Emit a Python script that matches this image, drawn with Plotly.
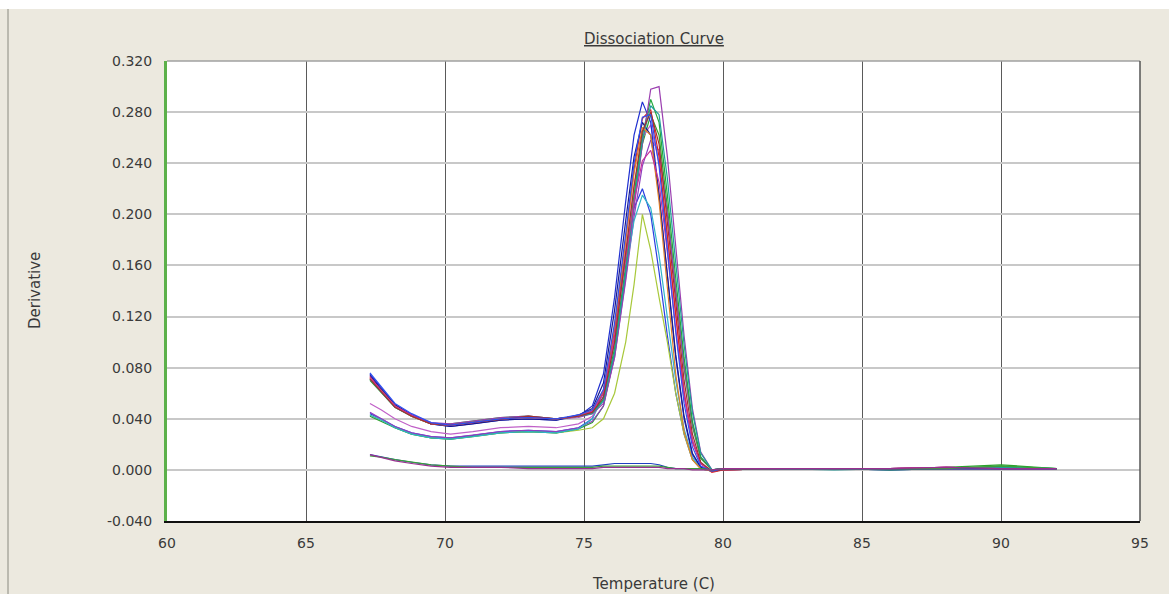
import plotly.graph_objects as go

# Shared temperature grid (C)
temperature = [67.3, 67.7, 68.2, 68.8, 69.5, 70.2, 71.0, 72.0, 73.0, 74.0, 74.8,
               75.3, 75.7, 76.1, 76.5, 76.8, 77.1, 77.4, 77.7, 78.0, 78.3, 78.6,
               78.9, 79.2, 79.6, 80.0, 82.0, 84.0, 86.0, 88.0, 90.0, 92.0]

# Derivative values per well
well_a1 = [0.075, 0.064, 0.051, 0.043, 0.036, 0.034, 0.036, 0.039, 0.040, 0.039, 0.042,
           0.050, 0.075, 0.135, 0.210, 0.262, 0.288, 0.272, 0.215, 0.150, 0.088, 0.040,
           0.012, 0.002, -0.001, 0.001, 0.001, 0.001, 0.000, 0.001, 0.001, 0.001]
well_a2 = [0.073, 0.063, 0.050, 0.042, 0.036, 0.035, 0.037, 0.040, 0.041, 0.040, 0.042,
           0.046, 0.060, 0.110, 0.180, 0.235, 0.275, 0.282, 0.245, 0.182, 0.118, 0.060,
           0.022, 0.005, -0.002, 0.000, 0.001, 0.001, 0.001, 0.002, 0.001, 0.001]
well_a3 = [0.070, 0.061, 0.049, 0.042, 0.036, 0.036, 0.038, 0.041, 0.042, 0.040, 0.042,
           0.045, 0.055, 0.095, 0.160, 0.215, 0.262, 0.290, 0.272, 0.215, 0.150, 0.088,
           0.038, 0.010, 0.000, 0.001, 0.001, 0.001, 0.000, 0.001, 0.003, 0.001]
well_a4 = [0.072, 0.062, 0.050, 0.043, 0.037, 0.036, 0.038, 0.041, 0.042, 0.040, 0.041,
           0.044, 0.052, 0.088, 0.150, 0.205, 0.255, 0.298, 0.300, 0.245, 0.175, 0.105,
           0.048, 0.014, 0.000, 0.000, 0.001, 0.001, 0.001, 0.002, 0.001, 0.001]
well_a5 = [0.074, 0.063, 0.051, 0.043, 0.036, 0.034, 0.036, 0.039, 0.040, 0.039, 0.043,
           0.048, 0.068, 0.125, 0.195, 0.245, 0.272, 0.262, 0.215, 0.150, 0.090, 0.042,
           0.013, 0.002, -0.001, 0.001, 0.001, 0.001, 0.001, 0.001, 0.001, 0.001]
well_a6 = [0.071, 0.061, 0.049, 0.042, 0.036, 0.035, 0.037, 0.040, 0.041, 0.040, 0.042,
           0.044, 0.054, 0.092, 0.155, 0.210, 0.258, 0.285, 0.278, 0.228, 0.162, 0.098,
           0.045, 0.013, 0.000, 0.001, 0.001, 0.000, 0.001, 0.001, 0.002, 0.001]
well_a7 = [0.072, 0.062, 0.050, 0.042, 0.036, 0.035, 0.037, 0.040, 0.041, 0.040, 0.042,
           0.047, 0.062, 0.112, 0.180, 0.232, 0.268, 0.262, 0.210, 0.140, 0.075, 0.030,
           0.008, 0.001, -0.001, 0.000, 0.001, 0.001, 0.001, 0.001, 0.001, 0.001]
well_a8 = [0.073, 0.062, 0.050, 0.043, 0.036, 0.035, 0.037, 0.040, 0.041, 0.040, 0.042,
           0.046, 0.060, 0.105, 0.165, 0.210, 0.242, 0.250, 0.225, 0.170, 0.110, 0.058,
           0.022, 0.005, -0.001, 0.000, 0.001, 0.001, 0.001, 0.002, 0.001, 0.001]
well_a9 = [0.071, 0.061, 0.049, 0.042, 0.036, 0.035, 0.037, 0.040, 0.042, 0.040, 0.042,
           0.045, 0.057, 0.100, 0.168, 0.222, 0.265, 0.280, 0.255, 0.195, 0.130, 0.070,
           0.028, 0.006, -0.001, 0.000, 0.001, 0.001, 0.001, 0.001, 0.001, 0.001]
well_a10 = [0.076, 0.065, 0.052, 0.044, 0.037, 0.035, 0.037, 0.040, 0.041, 0.040, 0.043,
            0.047, 0.063, 0.115, 0.185, 0.240, 0.276, 0.278, 0.238, 0.172, 0.108, 0.052,
            0.018, 0.003, -0.001, 0.001, 0.001, 0.001, 0.001, 0.001, 0.001, 0.001]
well_b1 = [0.044, 0.040, 0.034, 0.029, 0.026, 0.025, 0.027, 0.030, 0.031, 0.030, 0.033,
           0.040, 0.062, 0.110, 0.170, 0.205, 0.220, 0.200, 0.155, 0.105, 0.060, 0.028,
           0.008, 0.001, -0.001, 0.001, 0.001, 0.001, 0.000, 0.001, 0.001, 0.001]
well_b2 = [0.043, 0.039, 0.033, 0.028, 0.025, 0.024, 0.026, 0.029, 0.030, 0.029, 0.031,
           0.033, 0.040, 0.060, 0.100, 0.145, 0.200, 0.172, 0.135, 0.100, 0.060, 0.028,
           0.008, 0.001, -0.001, 0.000, 0.001, 0.001, 0.001, 0.001, 0.001, 0.001]
well_b3 = [0.042, 0.038, 0.033, 0.028, 0.025, 0.024, 0.026, 0.029, 0.030, 0.029, 0.032,
           0.037, 0.050, 0.090, 0.155, 0.210, 0.255, 0.278, 0.262, 0.205, 0.140, 0.080,
           0.034, 0.009, 0.000, 0.001, 0.001, 0.001, 0.001, 0.002, 0.004, 0.001]
well_b4 = [0.045, 0.040, 0.034, 0.029, 0.026, 0.025, 0.027, 0.030, 0.031, 0.030, 0.033,
           0.038, 0.050, 0.088, 0.148, 0.198, 0.238, 0.258, 0.250, 0.200, 0.140, 0.082,
           0.036, 0.010, 0.000, 0.000, 0.001, 0.001, 0.001, 0.002, 0.001, 0.001]
well_b5 = [0.043, 0.039, 0.033, 0.028, 0.025, 0.024, 0.026, 0.029, 0.030, 0.029, 0.032,
           0.040, 0.058, 0.100, 0.155, 0.195, 0.215, 0.205, 0.168, 0.118, 0.070, 0.032,
           0.010, 0.001, -0.001, 0.000, 0.001, 0.001, 0.001, 0.001, 0.001, 0.001]
well_b6 = [0.052, 0.047, 0.040, 0.034, 0.030, 0.028, 0.030, 0.033, 0.034, 0.033, 0.036,
           0.042, 0.056, 0.102, 0.170, 0.222, 0.260, 0.270, 0.240, 0.180, 0.118, 0.062,
           0.024, 0.005, -0.001, 0.000, 0.001, 0.001, 0.001, 0.002, 0.001, 0.001]
ntc_1 = [0.012, 0.010, 0.008, 0.006, 0.004, 0.003, 0.003, 0.003, 0.003, 0.003, 0.003,
         0.003, 0.004, 0.005, 0.005, 0.005, 0.005, 0.005, 0.004, 0.002, 0.001, 0.001,
         0.001, 0.001, 0.000, 0.001, 0.001, 0.001, 0.001, 0.001, 0.001, 0.001]
ntc_2 = [0.011, 0.010, 0.008, 0.006, 0.004, 0.003, 0.002, 0.002, 0.002, 0.002, 0.002,
         0.002, 0.003, 0.003, 0.003, 0.003, 0.003, 0.003, 0.003, 0.002, 0.001, 0.001,
         0.001, 0.001, 0.000, 0.001, 0.001, 0.001, 0.001, 0.001, 0.003, 0.001]
ntc_3 = [0.012, 0.010, 0.007, 0.005, 0.003, 0.002, 0.002, 0.002, 0.001, 0.001, 0.001,
         0.001, 0.002, 0.002, 0.002, 0.002, 0.002, 0.002, 0.002, 0.001, 0.001, 0.001,
         0.000, 0.000, 0.000, 0.001, 0.001, 0.001, 0.001, 0.002, 0.001, 0.001]

series = [
    ("B1", well_b1, "#2a3fe0"), ("B2", well_b2, "#a8c83a"), ("B3", well_b3, "#2ca02c"),
    ("B4", well_b4, "#8e3fc0"), ("B5", well_b5, "#2fb4c8"), ("B6", well_b6, "#c060c8"),
    ("A1", well_a1, "#1f2fd0"), ("A2", well_a2, "#e02020"), ("A3", well_a3, "#22a83a"),
    ("A4", well_a4, "#9b3fb0"), ("A5", well_a5, "#1a1a8c"), ("A6", well_a6, "#1f9e9a"),
    ("A7", well_a7, "#e0802a"), ("A8", well_a8, "#c8309a"), ("A9", well_a9, "#a03030"),
    ("A10", well_a10, "#3050f0"),
    ("NTC1", ntc_1, "#2040c0"), ("NTC2", ntc_2, "#3aa03a"), ("NTC3", ntc_3, "#9a3090"),
]

x_ticks = [60, 65, 70, 75, 80, 85, 90, 95]
y_ticks = [-0.04, 0.0, 0.04, 0.08, 0.12, 0.16, 0.2, 0.24, 0.28, 0.32]
y_tick_text = ["-0.040", "0.000", "0.040", "0.080", "0.120", "0.160", "0.200",
               "0.240", "0.280", "0.320"]

fig = go.Figure()
for name, vals, color in series:
    fig.add_trace(go.Scatter(x=temperature, y=vals, mode="lines", name=name,
                             line=dict(color=color, width=1.2), hoverinfo="skip"))

W, H = 1175, 594
L, R, T, B = 167, 35, 61, 73
pw, ph = W - L - R, H - T - B


def px_x(p):
    return (p - L) / pw


def px_y(p):
    return (H - B - p) / ph


font = "DejaVu Sans, Arial, sans-serif"
txt = "#3a3a3a"

fig.update_layout(
    width=W, height=H,
    margin=dict(l=L, r=R, t=T, b=B, pad=0),
    paper_bgcolor="#ECE9DF",
    plot_bgcolor="#FFFFFF",
    showlegend=False,
    font=dict(family=font, size=14, color=txt),
    xaxis=dict(range=[60, 95], tickvals=x_ticks, ticktext=[str(v) for v in x_ticks],
               showgrid=True, gridcolor="#5a5a5a", gridwidth=1.3, zeroline=False,
               showline=True, linecolor="#111111", linewidth=2, ticks="",
               ticklabelstandoff=8, tickfont=dict(size=14, color=txt)),
    yaxis=dict(range=[-0.04, 0.32], tickvals=y_ticks, ticktext=y_tick_text,
               showgrid=True, gridcolor="#c8c8c8", gridwidth=1.8, zeroline=False,
               showline=True, linecolor="#5cb04a", linewidth=3, ticks="",
               ticklabelstandoff=9, tickfont=dict(size=14, color=txt)),
    shapes=[
        # white strips outside the beige panel
        dict(type="rect", xref="paper", yref="paper", x0=px_x(0), x1=px_x(W),
             y0=px_y(9), y1=px_y(0), fillcolor="#FFFFFF", line=dict(width=0)),
        dict(type="rect", xref="paper", yref="paper", x0=px_x(1169), x1=px_x(W),
             y0=px_y(H), y1=px_y(0), fillcolor="#FFFFFF", line=dict(width=0)),
        dict(type="line", xref="paper", yref="paper", x0=px_x(8), x1=px_x(8),
             y0=px_y(9), y1=px_y(H), line=dict(color="#8a8a80", width=1)),
        # frame top and right
        dict(type="line", xref="paper", yref="paper", x0=0, x1=1, y0=1, y1=1,
             line=dict(color="#a0a0a0", width=1.5)),
        dict(type="line", xref="paper", yref="paper", x0=1, x1=1, y0=0, y1=1,
             line=dict(color="#555555", width=1.5)),
    ],
    annotations=[
        dict(text="<u>Dissociation Curve</u>", xref="paper", yref="paper",
             x=0.5, y=px_y(39), xanchor="center", yanchor="middle", showarrow=False,
             font=dict(size=15, color=txt, family=font)),
        dict(text="Derivative", xref="paper", yref="paper", x=px_x(35), y=0.5,
             xanchor="center", yanchor="middle", textangle=-90, showarrow=False,
             font=dict(size=15, color=txt, family=font)),
        dict(text="Temperature (C)", xref="paper", yref="paper", x=0.5, y=px_y(584),
             xanchor="center", yanchor="middle", showarrow=False,
             font=dict(size=15, color=txt, family=font)),
    ],
)

fig.write_html(
    "out.html",
    config={"displayModeBar": False},
    post_script="document.body.style.margin='0px';document.body.style.overflow='hidden';",
)
